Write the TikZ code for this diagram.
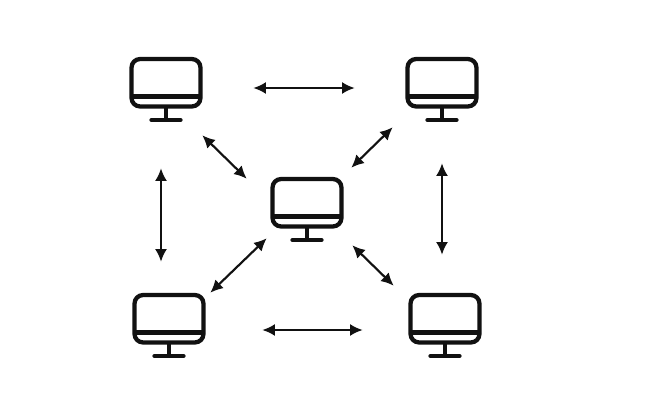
\documentclass[tikz,border=0pt]{standalone}
\usetikzlibrary{arrows.meta}
\definecolor{inkblack}{HTML}{111111}
\begin{document}
\begin{tikzpicture}
    [x=0.75pt,y=-0.75pt,
    monitor/.pic={
    \draw[line width=3.2pt,rounded corners=6.5pt] (-34.5,-30.5) rectangle (34.5,17);
    \draw[line width=3.2pt] (-34.5,7) -- (34.5,7);
    \draw[line width=2.8pt] (0,17) -- (0,30.5);
    \draw[line width=3.2pt,line cap=round] (-14.5,30.5) -- (14.5,30.5);},
    pcbox/.style={rectangle,minimum height=48.75pt,minimum width=54pt,inner sep=0pt,draw=none},
    link/.style={{Latex[length=9.5pt,width=9pt]}-{Latex[length=9.5pt,width=9pt]},line width=1.6pt}]
\useasboundingbox (0,0) rectangle (647,407);
\fill[white] (0,0) rectangle (647,407);
\begin{scope}[color=inkblack]
\foreach \pcname/\px/\py in {pcTL/166/89.5, pcTR/442/89.5, pcC/307/209.5, pcBL/169/325.5, pcBR/445/325.5}{
\node[pcbox] (\pcname) at (\px,\py) {};
\pic at (\pcname) {monitor};
}
\draw[link] ([shift={(51,-1.5)}]pcTL.east) -- ([shift={(-51,-1.5)}]pcTR.west);
\draw[link] ([shift={(57,4.5)}]pcBL.east) -- ([shift={(-46,4.5)}]pcBR.west);
\draw[link] ([shift={(-5,46)}]pcTL.south) -- ([shift={(-8,-31)}]pcBL.north);
\draw[link] ([shift={(0,41)}]pcTR.south) -- ([shift={(-3,-38)}]pcBR.north);
\draw[link] ([shift={(0,13)}]pcTL.south east) -- ([shift={(-24,2)}]pcC.north west);
\draw[link] ([shift={(-13,5)}]pcTR.south west) -- ([shift={(8,-9)}]pcC.north east);
\draw[link] ([shift={(-4,-4)}]pcC.south west) -- ([shift={(5,0)}]pcBL.north east);
\draw[link] ([shift={(9,3)}]pcC.south east) -- ([shift={(-15,-7)}]pcBR.north west);
\end{scope}
\end{tikzpicture}
\end{document}
